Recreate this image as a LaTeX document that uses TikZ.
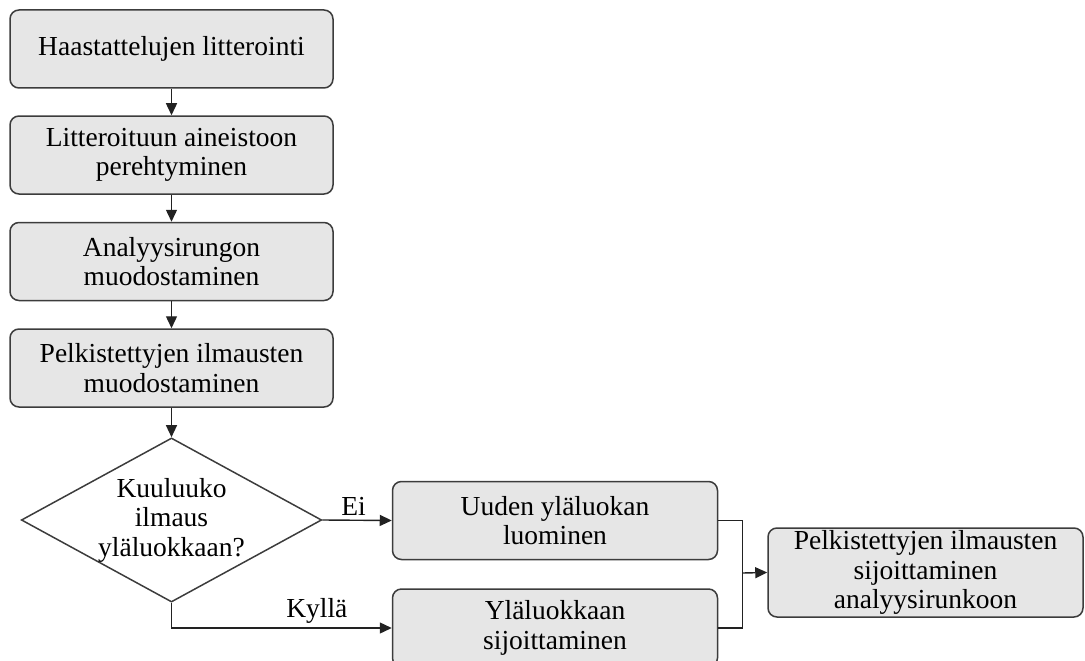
\documentclass[tikz,border=0pt]{standalone}
\usepackage{fontspec}
\setmainfont{Liberation Serif}
\usetikzlibrary{shapes.geometric,arrows.meta}
\definecolor{boxfill}{HTML}{E6E6E6}
\definecolor{edgec}{HTML}{3C3C3C}
\definecolor{linec}{HTML}{222222}
\newcommand{\fs}{\fontsize{27.5}{29.5}\selectfont}
\begin{document}
\begin{tikzpicture}[x=1pt,y=-1pt,
  box/.style={draw=edgec, fill=boxfill, rounded corners=9pt, line width=1.5pt,
    align=center, inner sep=0pt, minimum width=323pt, minimum height=78pt, font=\fs},
  dec/.style={draw=edgec, line width=1.5pt, shape=diamond, aspect=1.83, inner sep=0pt,
    minimum width=300pt, minimum height=164pt, align=center, font=\fs},
  arr/.style={draw=linec, line width=1.4pt, -{Triangle[length=12pt,width=11pt]}},
  conn/.style={draw=linec, line width=1.4pt},
  lab/.style={font=\fs, inner sep=4pt}]
\useasboundingbox (0,0) rectangle (1085,661);
\node[box] (b1) at (171.5,49) {Haastattelujen litterointi};
\node[box] (b2) at (171.5,155) {Litteroituun aineistoon\\perehtyminen};
\node[box] (b3) at (171.5,261.5) {Analyysirungon\\muodostaminen};
\node[box] (b4) at (171.5,368) {Pelkistettyjen ilmausten\\muodostaminen};
\node[dec] (d) at (171.5,520) {Kuuluuko\\ilmaus\\yläluokkaan?};
\node[box, minimum width=325pt] (b5) at (555,520.5) {Uuden yläluokan\\luominen};
\node[box, minimum width=325pt] (b6) at (555,628) {Yläluokkaan\\sijoittaminen};
\node[box, minimum width=315pt, minimum height=89pt] (b7) at (925.5,572.5) {Pelkistettyjen ilmausten\\sijoittaminen\\analyysirunkoon};
\coordinate (j) at (742.5,573);
\draw[arr] (b1) -- (b2);
\draw[arr] (b2) -- (b3);
\draw[arr] (b3) -- (b4);
\draw[arr] (b4) -- (d);
\draw[arr] (d.east) -- (b5.west) node[lab, pos=0.45, above] {Ei};
\draw[arr] (d.south) |- (b6.west) node[lab, pos=0.83, above] {Kyllä};
\draw[conn] (b5.east) -| (j) |- (b6.east);
\draw[arr] (j) -- (b7.west);
\end{tikzpicture}
\end{document}
